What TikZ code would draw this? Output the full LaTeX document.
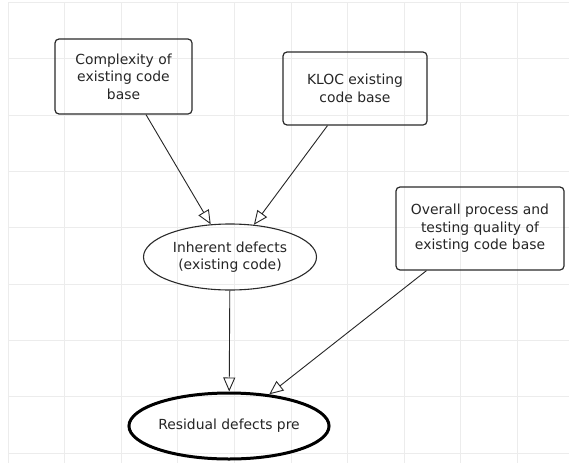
\documentclass[tikz,border=0pt]{standalone}
\usepackage{fontspec}
\setmainfont{DejaVu Sans}
\usetikzlibrary{positioning,shapes.geometric,arrows.meta}

\definecolor{gridgray}{HTML}{ECECEC}
\definecolor{edgegray}{HTML}{2A2A2A}

\begin{document}
\begin{tikzpicture}[
    x=1pt,y=-1pt,
    font=\fontsize{13.9}{17.5}\selectfont,
    gridline/.style={
      draw=gridgray,line width=0.8pt
    },
    factorbox/.style={
      rectangle,rounded corners=4pt,draw=edgegray,line width=1.2pt,
      align=center,inner sep=0pt,text=black!85
    },
    defectnode/.style={
      ellipse,draw=edgegray,line width=1.1pt,
      align=center,inner sep=0pt,text=black!85
    },
    resultnode/.style={
      defectnode,
      draw=black,line width=3pt
    },
    influence/.style={
      draw=black!85,line width=0.9pt,
      -{Triangle[open,length=14pt,width=12pt,line width=0.9pt]}
    }]

      \useasboundingbox[fill=white] (0,0) rectangle (569,463);

      \foreach \k in {0,...,9}
        \draw[gridline] (8+56.6*\k,2.5) -- (8+56.6*\k,463);
      \foreach \k in {0,...,8}
        \draw[gridline] (8,2.5+56.3*\k) -- (569,2.5+56.3*\k);

      \node[factorbox,minimum width=137pt,minimum height=75pt] (cplx) at (123.5,76.5)
        {Complexity of\\existing code\\base};
      \node[factorbox,minimum width=144pt,minimum height=73pt] (kloc) at (355,88.5)
        {KLOC existing\\code base};
      \node[factorbox,minimum width=168pt,minimum height=83pt] (proc) at (480,228.5)
        {Overall process and\\testing quality of\\existing code base};

      \node[defectnode,minimum width=173pt,minimum height=66pt] (inh) at (230,257)
        {Inherent defects\\(existing code)};
      \node[resultnode,minimum width=170pt,minimum height=66pt] (res) at (229,426)
        {Residual defects pre};

      \draw[influence] (cplx) -- (inh);
      \draw[influence] (kloc) -- (inh);
      \draw[influence] (inh) -- (res);
      \draw[influence] (proc) -- (res);
  \end{tikzpicture}
\end{document}
